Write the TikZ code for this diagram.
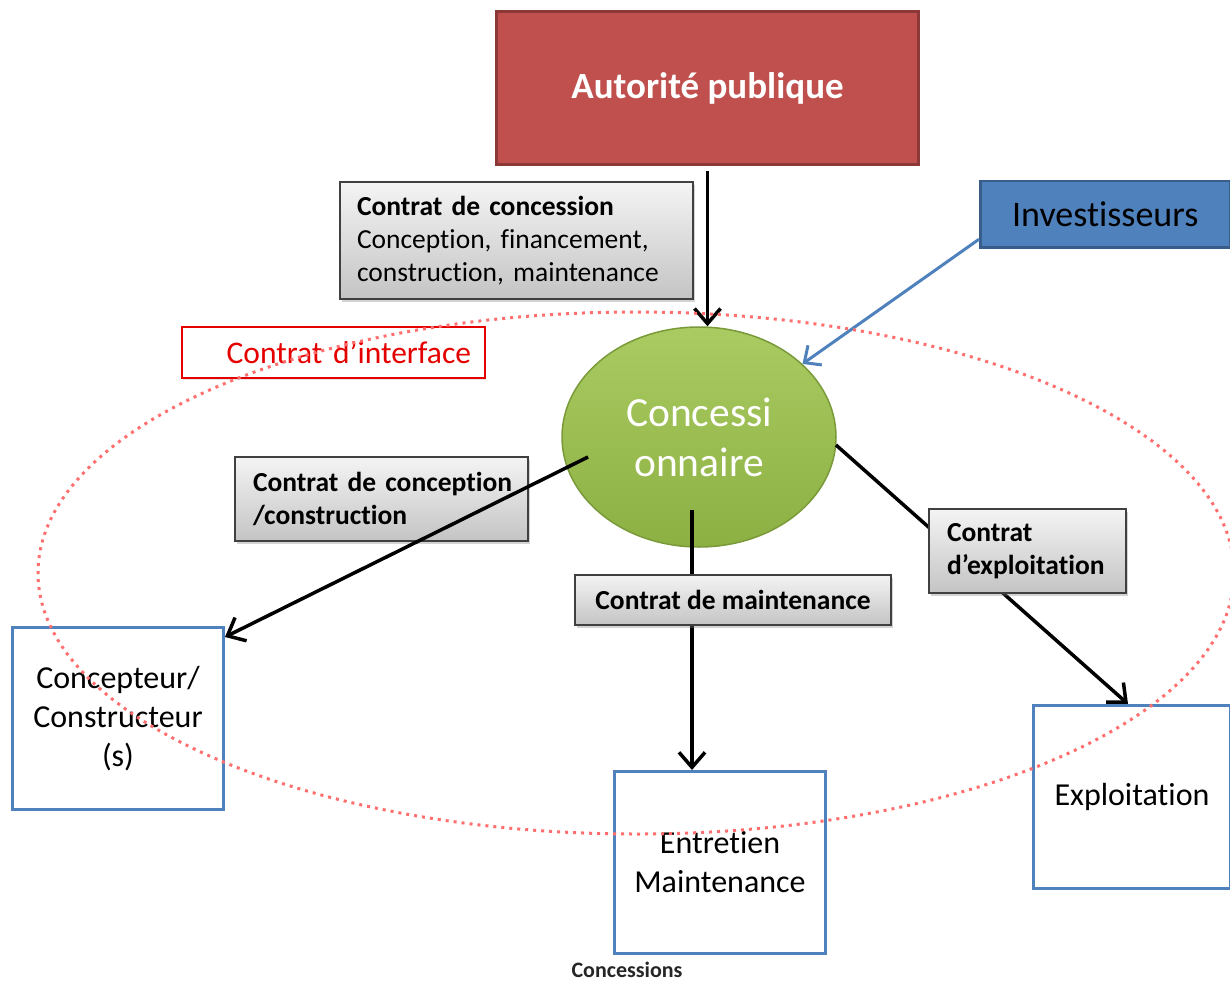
\documentclass[tikz,border=0pt]{standalone}
\usepackage{fontspec}
\setmainfont[Ligatures={NoCommon}]{Carlito}
\usetikzlibrary{arrows.meta,shadows,shapes.geometric}
\definecolor{redfill}{HTML}{C0504D}
\definecolor{redline}{HTML}{8C3836}
\definecolor{bluefill}{HTML}{4F81BD}
\definecolor{blueline}{HTML}{385D8A}
\definecolor{greentop}{HTML}{A9CB62}
\definecolor{greenbot}{HTML}{8DB043}
\definecolor{greenline}{HTML}{7A9A3A}
\definecolor{graytop}{HTML}{F4F4F4}
\definecolor{graybot}{HTML}{C4C4C4}
\definecolor{dotred}{HTML}{FF6F6F}
\tikzset{
  gbox/.style={draw=black!75, line width=2pt, top color=graytop, bottom color=graybot,
    drop shadow={shadow xshift=2pt, shadow yshift=-3pt, opacity=0.35},
    anchor=north west, inner ysep=0pt, font=\fontsize{27.5}{33}\selectfont},
  wbox/.style={draw=bluefill, line width=3pt, fill=white, anchor=north west, inner sep=0pt,
    align=center, font=\fontsize{32}{39}\selectfont},
  arr/.style={draw=black, line width=3.5pt, -{Straight Barb[length=15pt,width=26pt,line width=3.5pt]}},
  barr/.style={draw=bluefill, line width=3pt, -{Straight Barb[length=13pt,width=24pt,line width=3pt]}}
}
\begin{document}
\begin{tikzpicture}[x=1pt,y=-1pt]
\useasboundingbox (0,0) rectangle (1230,984);

% Autorite publique
\node[draw=redline, line width=3pt, fill=redfill, anchor=north west, minimum width=422pt, minimum height=153pt,
  inner sep=0pt, text=white, font=\bfseries\fontsize{37}{42}\selectfont,
  drop shadow={shadow xshift=1pt, shadow yshift=-2pt, opacity=0.3}] (auto) at (495,10) {Autorité publique};

% Investisseurs
\node[draw=blueline, line width=2.5pt, fill=bluefill, anchor=north west, minimum width=250pt, minimum height=66pt,
  inner sep=0pt, text=black, font=\fontsize{36}{40}\selectfont,
  drop shadow={shadow xshift=1pt, shadow yshift=-2pt, opacity=0.3}] (inv) at (979,180) {Investisseurs};

% Concessionnaire
\node[ellipse, draw=greenline, line width=1.5pt, top color=greentop, bottom color=greenbot,
  minimum width=274pt, minimum height=220pt, inner sep=0pt, text=white, align=center,
  font=\fontsize{41.5}{50}\selectfont] (conc) at (699,437) {Concessi\\onnaire};

% contract boxes
\node[gbox, minimum height=117pt, inner xsep=17pt, text width=319pt, align=left] (cconc) at (339,181)
  {\mbox{\textbf{Contrat de concession}}\\\mbox{Conception, financement,}\\\mbox{construction, maintenance}};

% white boxes
\node[wbox, minimum width=211pt, minimum height=182pt] (cc) at (11,626) {Concepteur/\\Constructeur\\(s)};
\node[wbox, minimum width=211pt, minimum height=182pt] (ent) at (613,770) {Entretien\\Maintenance};
\node[wbox, minimum width=197pt, minimum height=183pt] (expl) at (1032,704) {Exploitation};

% connectors
\draw[arr, shorten <=5pt] (auto.south) -- (auto.south |- conc.north);
\draw[barr] ([yshift=-25pt]inv.west) -- (conc);

\coordinate (vt) at ([xshift=-7pt,yshift=-73pt]conc.center);
\draw[arr] (vt) -- (vt |- ent.north);

\coordinate (ct) at ([xshift=-111pt,yshift=-20pt]conc.center);
\coordinate (et) at ([xshift=137pt,yshift=-8pt]conc.center);
\coordinate (eh) at ([xshift=96pt]expl.north west);
\draw[arr] (et) -- (eh);

\node[gbox, minimum height=50pt, minimum width=316pt, inner xsep=0pt, align=center] (cmaint) at (574,574)
  {\textbf{Contrat de maintenance}};
\node[gbox, minimum height=84pt, inner xsep=18pt, text width=161pt, align=left] (cexpl) at (928,508)
  {\mbox{\textbf{Contrat}}\\\mbox{\textbf{d’exploitation}}};
\node[gbox, minimum height=84pt, inner xsep=18pt, text width=257pt, align=left] (ccons) at (234,456)
  {\mbox{\textbf{Contrat de conception}}\\\mbox{\textbf{/construction}}};

\draw[arr] (ct) -- ([yshift=-11pt]cc.north east);

% Contrat d'interface
\node[draw=red!90!black, line width=2pt, fill=white, anchor=north west, minimum width=303pt, minimum height=51pt,
  inner xsep=14pt, inner ysep=0pt, text width=275pt, align=right, text=red!90!black,
  font=\fontsize{31.5}{36}\selectfont,
  drop shadow={shadow xshift=1pt, shadow yshift=-2pt, opacity=0.2}] (cint) at (181,326) {Contrat d’interface};

% dotted ellipse
\draw[dotred, line width=3pt, dash pattern=on 3pt off 5pt] (636,573) ellipse [x radius=598pt, y radius=261pt];

% caption
\node[font=\bfseries\fontsize{22}{24}\selectfont, text=black!85, inner sep=0pt] (cap) at (627,970) {Concessions};
\end{tikzpicture}
\end{document}
